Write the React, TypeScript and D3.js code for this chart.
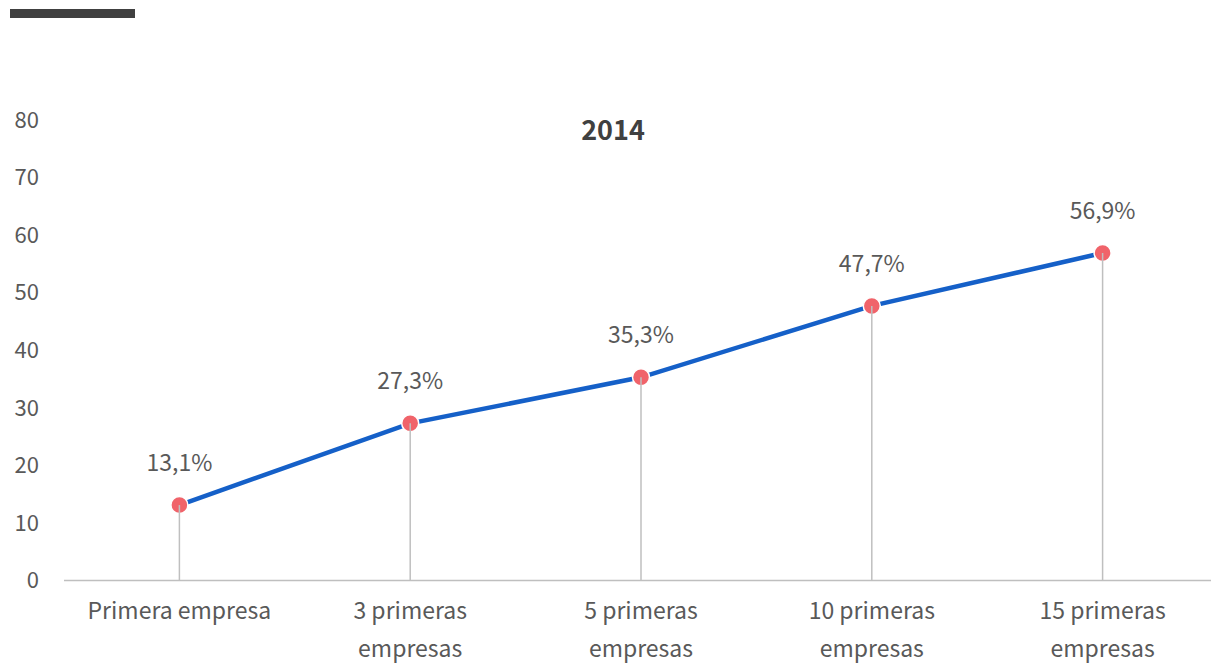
import React from "react";
import * as d3 from "d3";

const categories: string[][] = [
  ["Primera empresa"],
  ["3 primeras", "empresas"],
  ["5 primeras", "empresas"],
  ["10 primeras", "empresas"],
  ["15 primeras", "empresas"],
];
const values: number[] = [13.1, 27.3, 35.3, 47.7, 56.9];
const valueLabels: string[] = ["13,1%", "27,3%", "35,3%", "47,7%", "56,9%"];
const yTicks: number[] = [0, 10, 20, 30, 40, 50, 60, 70, 80];
const title = "2014";

const W = 1211;
const H = 665;
const FONT = "'Noto Sans CJK JP', 'Noto Sans', sans-serif";

export default function App() {
  const x = d3
    .scaleBand<number>()
    .domain(values.map((_, i) => i))
    .range([64, 1218])
    .padding(0);
  const y = d3.scaleLinear().domain([0, 80]).range([580.5, 120]);
  const cx = (i: number) => (x(i) as number) + x.bandwidth() / 2;
  const line = d3
    .line<number>()
    .x((_, i) => cx(i))
    .y((d) => y(d));

  return (
    <svg
      width={W}
      height={H}
      style={{ position: "absolute", left: 0, top: 0, background: "#fff" }}
      fontFamily={FONT}
    >
      <rect x={10} y={9} width={125} height={9} fill="#404040" />
      <text x={613} y={140} textAnchor="middle" fontSize={27} fontWeight="bold" fill="#404040">
        {title}
      </text>
      {yTicks.map((t) => (
        <text key={t} x={39} y={y(t)} dy="0.35em" textAnchor="end" fontSize={22} fill="#595959">
          {t}
        </text>
      ))}
      <line x1={64} x2={W} y1={y(0)} y2={y(0)} stroke="#bfbfbf" strokeWidth={1.5} />
      {categories.map((lines, i) => (
        <text key={i} textAnchor="middle" fontSize={23} fill="#595959">
          {lines.map((l, j) => (
            <tspan key={j} x={cx(i)} y={619 + j * 38}>
              {l}
            </tspan>
          ))}
        </text>
      ))}
      <path d={line(values) || ""} fill="none" stroke="#1560c8" strokeWidth={4.5} />
      {values.map((v, i) => (
        <g key={i}>
          <circle cx={cx(i)} cy={y(v)} r={8.5} fill="#f0636a" stroke="#fff" strokeWidth={1.5} />
          <line x1={cx(i)} x2={cx(i)} y1={y(v)} y2={y(0)} stroke="#bfbfbf" strokeWidth={1.5} />
          <text x={cx(i)} y={y(v) - 34} textAnchor="middle" fontSize={23} fill="#595959">
            {valueLabels[i]}
          </text>
        </g>
      ))}
    </svg>
  );
}
